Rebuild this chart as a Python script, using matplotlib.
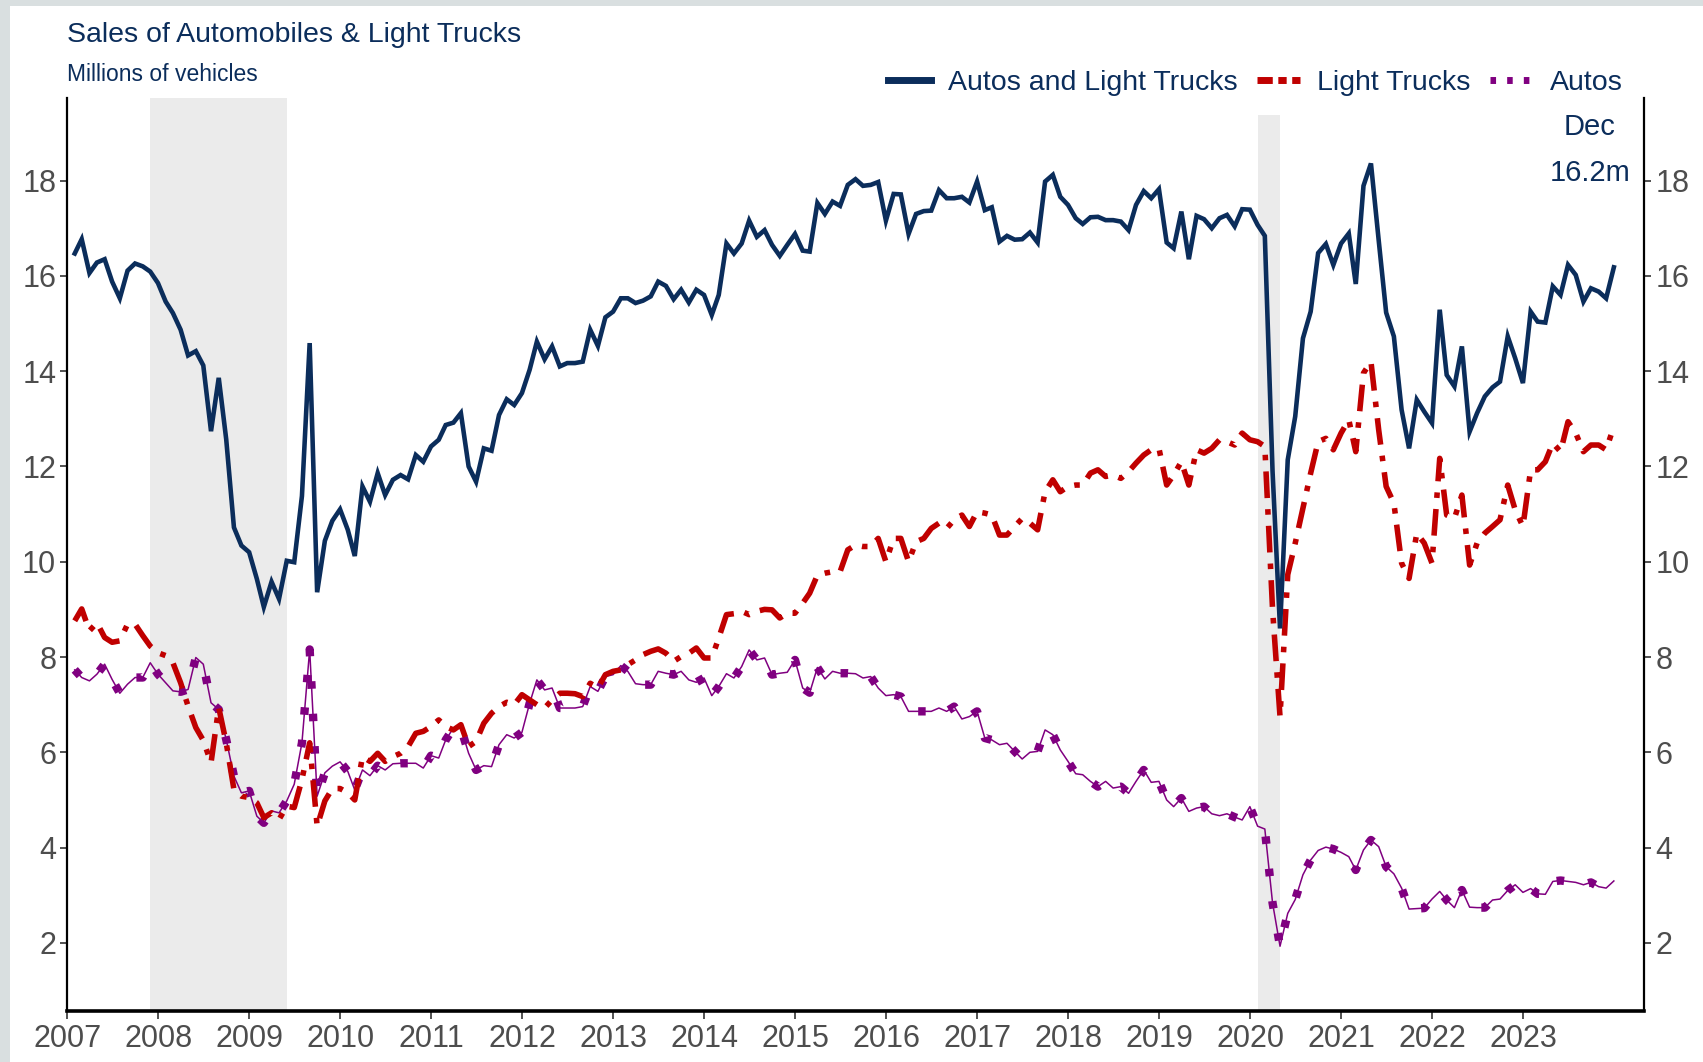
import numpy as np
import pandas as pd
import matplotlib
matplotlib.use("Agg")
import matplotlib.pyplot as plt
import matplotlib.dates as mdates
from matplotlib.lines import Line2D
from matplotlib.patches import Rectangle

# monthly, seasonally adjusted annual rate, millions (Jan 2007 - Dec 2023)
months = pd.date_range("2007-01-31", periods=204, freq="ME")

autos_and_trucks = [
    16.47, 16.77, 16.06, 16.28, 16.35, 15.88, 15.53, 16.11, 16.26, 16.20, 16.09, 15.85,
    15.46, 15.22, 14.87, 14.33, 14.42, 14.12, 12.74, 13.86, 12.57, 10.72, 10.34, 10.20,
    9.64, 9.05, 9.58, 9.22, 10.02, 9.99, 11.38, 14.59, 9.36, 10.44, 10.86, 11.10,
    10.67, 10.12, 11.58, 11.26, 11.86, 11.40, 11.72, 11.82, 11.73, 12.24, 12.10, 12.42,
    12.56, 12.87, 12.92, 13.12, 12.00, 11.68, 12.38, 12.33, 13.08, 13.41, 13.29, 13.54,
    14.03, 14.62, 14.25, 14.52, 14.10, 14.17, 14.17, 14.20, 14.87, 14.53, 15.13, 15.25,
    15.53, 15.53, 15.43, 15.48, 15.57, 15.88, 15.79, 15.51, 15.71, 15.44, 15.71, 15.60,
    15.18, 15.60, 16.68, 16.47, 16.68, 17.16, 16.82, 16.96, 16.65, 16.42, 16.65, 16.88,
    16.53, 16.51, 17.53, 17.30, 17.56, 17.47, 17.91, 18.03, 17.89, 17.91, 17.97, 17.16,
    17.72, 17.71, 16.88, 17.30, 17.36, 17.37, 17.80, 17.63, 17.63, 17.66, 17.54, 17.98,
    17.38, 17.44, 16.72, 16.84, 16.76, 16.77, 16.91, 16.70, 17.98, 18.12, 17.66, 17.49,
    17.21, 17.09, 17.23, 17.24, 17.17, 17.17, 17.14, 16.96, 17.49, 17.78, 17.63, 17.82,
    16.70, 16.58, 17.35, 16.35, 17.26, 17.19, 17.00, 17.21, 17.28, 17.04, 17.40, 17.39,
    17.07, 16.84, 11.90, 8.60, 12.14, 13.05, 14.69, 15.25, 16.48, 16.67, 16.23, 16.68,
    16.89, 15.83, 17.89, 18.36, 16.75, 15.23, 14.73, 13.19, 12.38, 13.40, 13.15, 12.91,
    15.29, 13.92, 13.68, 14.52, 12.73, 13.12, 13.47, 13.66, 13.78, 14.73, 14.27, 13.75,
    15.25, 15.04, 15.02, 15.78, 15.60, 16.23, 16.02, 15.46, 15.74, 15.67, 15.53, 16.18,
]

light_trucks = [
    8.76, 9.01, 8.55, 8.72, 8.41, 8.31, 8.34, 8.69, 8.69, 8.45, 8.23, 8.09,
    8.03, 7.88, 7.46, 6.97, 6.52, 6.25, 5.78, 6.94, 6.20, 5.22, 5.08, 5.05,
    4.94, 4.63, 4.73, 4.59, 4.87, 4.84, 5.43, 6.20, 4.45, 4.98, 5.24, 5.24,
    5.15, 5.00, 5.91, 5.81, 5.98, 5.81, 5.91, 5.98, 6.12, 6.40, 6.44, 6.54,
    6.68, 6.54, 6.47, 6.58, 6.12, 6.23, 6.61, 6.82, 6.96, 7.05, 7.00, 7.21,
    7.10, 7.00, 6.93, 7.10, 7.24, 7.24, 7.23, 7.17, 7.45, 7.35, 7.63, 7.70,
    7.73, 7.84, 7.94, 8.05, 8.12, 8.17, 8.08, 7.91, 8.01, 8.08, 8.19, 7.98,
    7.98, 8.40, 8.89, 8.91, 8.96, 8.89, 8.96, 9.00, 8.99, 8.82, 8.92, 8.92,
    9.13, 9.34, 9.72, 9.76, 9.79, 9.79, 10.25, 10.35, 10.32, 10.32, 10.49, 10.00,
    10.49, 10.49, 10.00, 10.42, 10.49, 10.70, 10.81, 10.70, 10.88, 10.98, 10.74, 11.05,
    11.02, 10.98, 10.56, 10.56, 10.74, 10.91, 10.81, 10.67, 11.47, 11.72, 11.47, 11.58,
    11.61, 11.61, 11.86, 11.93, 11.79, 11.82, 11.75, 11.89, 12.07, 12.24, 12.35, 12.38,
    11.61, 11.82, 12.10, 11.61, 12.35, 12.28, 12.38, 12.56, 12.52, 12.45, 12.70, 12.56,
    12.52, 12.42, 9.00, 6.75, 9.73, 10.39, 11.12, 11.86, 12.52, 12.59, 12.35, 12.70,
    12.98, 12.31, 13.96, 14.20, 12.77, 11.58, 11.23, 9.97, 9.65, 10.60, 10.39, 9.97,
    12.17, 10.98, 10.91, 11.40, 9.93, 10.39, 10.60, 10.74, 10.88, 11.61, 11.09, 10.74,
    11.93, 11.93, 12.10, 12.49, 12.31, 12.94, 12.70, 12.31, 12.45, 12.45, 12.35, 12.84,
]

autos = [
    7.73, 7.57, 7.50, 7.64, 7.85, 7.53, 7.24, 7.43, 7.57, 7.57, 7.88, 7.64,
    7.46, 7.29, 7.27, 7.32, 7.99, 7.85, 7.04, 6.90, 6.27, 5.50, 5.15, 5.19,
    4.66, 4.52, 4.77, 4.73, 4.98, 5.33, 6.20, 8.16, 5.08, 5.57, 5.71, 5.80,
    5.60, 5.21, 5.63, 5.51, 5.72, 5.63, 5.76, 5.77, 5.77, 5.77, 5.67, 5.93,
    5.88, 6.26, 6.51, 6.51, 5.98, 5.63, 5.72, 5.70, 6.16, 6.37, 6.30, 6.42,
    7.03, 7.52, 7.31, 7.35, 6.93, 6.93, 6.93, 6.96, 7.38, 7.28, 7.59, 7.63,
    7.82, 7.70, 7.44, 7.42, 7.42, 7.70, 7.66, 7.63, 7.70, 7.52, 7.47, 7.56,
    7.19, 7.38, 7.65, 7.56, 7.80, 8.15, 7.94, 7.98, 7.63, 7.66, 7.68, 7.94,
    7.35, 7.25, 7.78, 7.54, 7.70, 7.66, 7.66, 7.65, 7.56, 7.59, 7.35, 7.19,
    7.21, 7.17, 6.86, 6.86, 6.86, 6.86, 6.93, 6.86, 6.96, 6.70, 6.75, 6.86,
    6.30, 6.26, 6.16, 6.19, 6.02, 5.86, 6.00, 6.02, 6.47, 6.37, 6.05, 5.81,
    5.55, 5.53, 5.39, 5.28, 5.39, 5.25, 5.28, 5.14, 5.39, 5.63, 5.37, 5.39,
    5.00, 4.86, 5.04, 4.76, 4.83, 4.86, 4.71, 4.67, 4.71, 4.64, 4.58, 4.86,
    4.45, 4.39, 2.84, 1.93, 2.62, 2.91, 3.43, 3.74, 3.94, 4.01, 3.97, 3.90,
    3.81, 3.53, 3.95, 4.16, 4.02, 3.60, 3.45, 3.15, 2.71, 2.72, 2.73, 2.92,
    3.08, 2.90, 2.74, 3.11, 2.75, 2.74, 2.74, 2.90, 2.92, 3.10, 3.22, 3.06,
    3.14, 3.03, 3.02, 3.29, 3.31, 3.29, 3.27, 3.22, 3.27, 3.18, 3.15, 3.30,
]

recessions = [("2007-12-01", "2009-06-01"), ("2020-02-01", "2020-05-01")]
year_ticks = list(range(2007, 2024))
y_ticks = [2, 4, 6, 8, 10, 12, 14, 16, 18]

NAVY = "#0b2d5b"
RED = "#c00000"
PURPLE = "#800080"
GRAY = "#4d4d4d"

plt.rcParams["font.family"] = ["Liberation Sans", "DejaVu Sans"]

fig = plt.figure(figsize=(17.03, 10.62), dpi=100)
fig.patch.set_facecolor("#d9dfe0")
fig.add_artist(Rectangle((10 / 1703, 0), 1, 1 - 6 / 1062, transform=fig.transFigure,
                         facecolor="white", edgecolor="none", zorder=-5))

ax = fig.add_axes([0.0395, 0.048, 0.926, 0.860])
ax.set_facecolor("white")

ylo, yhi = 0.57, 19.74
# recession shading
ax.axvspan(pd.Timestamp(recessions[0][0]), pd.Timestamp(recessions[0][1]),
           color="#ebebeb", lw=0, zorder=0)
ax.axvspan(pd.Timestamp(recessions[1][0]), pd.Timestamp(recessions[1][1]),
           ymax=(19.38 - ylo) / (yhi - ylo), color="#ebebeb", lw=0, zorder=0)

ax.plot(months, autos_and_trucks, color=NAVY, lw=3.3, solid_joinstyle="miter", zorder=4)
ax.plot(months, light_trucks, color=RED, lw=4.0, linestyle=(0, (4.8, 2.0, 1, 2.0)),
        dash_capstyle="butt", zorder=3)
ax.plot(months, autos, color=PURPLE, lw=1.1, zorder=2)
ax.plot(months, autos, color=PURPLE, lw=6.0, linestyle=(0, (0.9, 3.0)),
        dash_capstyle="butt", zorder=2)

ax.set_xlim(pd.Timestamp("2007-01-01"), pd.Timestamp("2024-05-01"))
ax.set_ylim(ylo, yhi)
ax.set_xticks([pd.Timestamp(f"{y}-01-01") for y in year_ticks])
ax.xaxis.set_major_formatter(mdates.DateFormatter("%Y"))
ax.set_yticks(y_ticks)

for s in ["left", "right"]:
    ax.spines[s].set_linewidth(1.6)
    ax.spines[s].set_color("black")
ax.spines["bottom"].set_linewidth(2.6)
ax.spines["top"].set_visible(False)

ax.tick_params(axis="y", which="both", left=True, right=True, labelleft=True,
               labelright=True, length=5, width=1.2, color="#333333",
               labelsize=22, labelcolor=GRAY, pad=3)
ax.tick_params(axis="x", length=6, width=1.2, color="#333333",
               labelsize=22, labelcolor=GRAY, pad=3)

fig.text(67 / 1703, 1 - 35 / 1062, "Sales of Automobiles & Light Trucks",
         fontsize=20.5, color=NAVY, ha="left", va="center")
fig.text(67 / 1703, 1 - 74 / 1062, "Millions of vehicles",
         fontsize=16.5, color=NAVY, ha="left", va="center")

fig.text(1590 / 1703, 1 - 127 / 1062, "Dec", fontsize=21, color=NAVY,
         ha="center", va="center")
fig.text(1590 / 1703, 1 - 173 / 1062, "16.2m", fontsize=21, color=NAVY,
         ha="center", va="center")

handles = [
    Line2D([], [], color=NAVY, lw=5),
    Line2D([], [], color=RED, lw=5, linestyle=(0, (2.2, 0.8, 1.2, 0.8)), dash_capstyle="butt"),
    Line2D([], [], color=PURPLE, lw=5, linestyle=(0, (0.8, 1.6)), dash_capstyle="butt"),
]
labels = ["Autos and Light Trucks", "Light Trucks", "Autos"]
fig.legend(handles, labels, loc="center right", bbox_to_anchor=(1623 / 1703, 1 - 83 / 1062),
           ncol=3, frameon=False, fontsize=20.5, labelcolor=NAVY, handlelength=1.5,
           handletextpad=0.6, columnspacing=0.7, borderaxespad=0, borderpad=0)

fig.savefig("out.png", dpi=100, facecolor=fig.get_facecolor())
